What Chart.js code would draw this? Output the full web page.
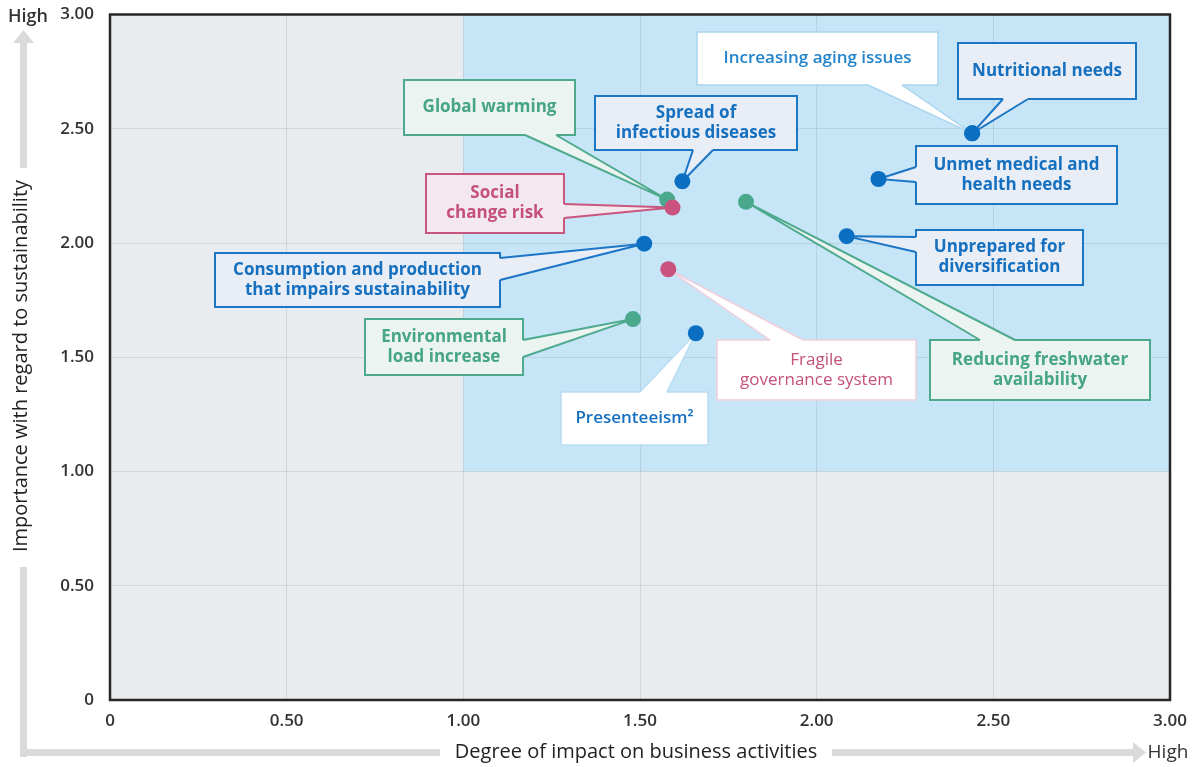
<!DOCTYPE html>
<html>
<head>
<meta charset="utf-8">
<script src="https://cdn.jsdelivr.net/npm/chart.js@4.4.1/dist/chart.umd.min.js"></script>
<style>
  html, body { margin: 0; padding: 0; background: #ffffff; }
  #wrap { width: 1204px; height: 767px; }
</style>
</head>
<body>
<div id="wrap"><canvas id="c" width="1204" height="767"></canvas></div>
<script>
// Materiality issues: impact on business (x) vs. importance for sustainability (y)
const issues = [
  'Nutritional needs',
  'Increasing aging issues',
  'Unmet medical and health needs',
  'Unprepared for diversification',
  'Spread of infectious diseases',
  'Global warming',
  'Social change risk',
  'Reducing freshwater availability',
  'Consumption and production that impairs sustainability',
  'Fragile governance system',
  'Environmental load increase',
  'Presenteeism'
];
const impact     = [2.44, 2.44, 2.175, 2.085, 1.62, 1.577, 1.592, 1.80, 1.512, 1.58, 1.48, 1.658];
const importance = [2.48, 2.48, 2.28, 2.03, 2.27, 2.19, 2.155, 2.18, 1.997, 1.885, 1.667, 1.605];
const groups     = ['social', 'social', 'social', 'social', 'social', 'env', 'gov', 'env', 'social', 'gov', 'env', 'social'];
const tickLabels = ['0', '0.50', '1.00', '1.50', '2.00', '2.50', '3.00'];

const palette = {
  social: { dot: '#0b6fc1', text: '#1670c0', border: '#1b76c6', fill: '#e8edf6' },
  env:    { dot: '#4aa98c', text: '#46a487', border: '#4eaa8e', fill: '#ebf4f1' },
  gov:    { dot: '#c9527f', text: '#c4507c', border: '#c9567f', fill: '#f4e8ef' }
};

// Callout boxes (canvas pixels): box [l, t, r, b], label lines, tail side and its base span
const callouts = [
  { i: 0, box: [958, 43, 1136, 99],  lines: ['Nutritional needs'], side: 'bottom', base: [1003, 1028] },
  { i: 1, box: [697, 32, 938, 85],   lines: ['Increasing aging issues'], side: 'bottom', base: [868, 902], plain: '#a9d5ef', weight: 600, textColor: '#2384cc' },
  { i: 2, box: [916, 146, 1117, 204], lines: ['Unmet medical and', 'health needs'], side: 'left', base: [167, 182] },
  { i: 3, box: [916, 230, 1083, 285], lines: ['Unprepared for', 'diversification'], side: 'left', base: [237, 252] },
  { i: 4, box: [595, 96, 797, 150],  lines: ['Spread of', 'infectious diseases'], side: 'bottom', base: [693, 713] },
  { i: 5, box: [404, 80, 575, 135],  lines: ['Global warming'], side: 'bottom', base: [525, 556] },
  { i: 6, box: [426, 174, 564, 233], lines: ['Social', 'change risk'], side: 'right', base: [204, 218] },
  { i: 7, box: [930, 340, 1150, 400], lines: ['Reducing freshwater', 'availability'], side: 'top', base: [980, 1015] },
  { i: 8, box: [215, 253, 500, 307], lines: ['Consumption and production', 'that impairs sustainability'], side: 'right', base: [258, 280] },
  { i: 9, box: [717, 340, 916, 400], lines: ['Fragile', 'governance system'], side: 'top', base: [770, 803], plain: '#efcfdc', weight: 500 },
  { i: 10, box: [365, 319, 523, 375], lines: ['Environmental', 'load increase'], side: 'right', base: [340, 357] },
  { i: 11, box: [561, 392, 708, 445], lines: ['Presenteeism²'], side: 'top', base: [640, 667], plain: '#b9dcf2', weight: 600 }
];

const points = impact.map((x, k) => ({ x: x, y: importance[k] }));
const dotColors = groups.map(g => palette[g].dot);

const FONT = '"Open Sans", "Noto Sans", sans-serif';

const backdrop = {
  id: 'backdrop',
  beforeDraw(chart) {
    const { ctx, chartArea: a, scales: { x, y } } = chart;
    ctx.save();
    ctx.fillStyle = '#ffffff';
    ctx.fillRect(0, 0, chart.width, chart.height);
    ctx.fillStyle = '#e9ecef';
    ctx.fillRect(a.left, a.top, a.right - a.left, a.bottom - a.top);
    // high-priority quadrant
    const x0 = x.getPixelForValue(1), x1 = x.getPixelForValue(3);
    const y0 = y.getPixelForValue(3), y1 = y.getPixelForValue(1);
    ctx.fillStyle = '#c6e5f6';
    ctx.fillRect(x0, y0, x1 - x0, y1 - y0);
    ctx.restore();
  }
};

function tailPoints(c) {
  const [l, t, r, b] = c.box;
  const [p, q] = c.base;
  switch (c.side) {
    case 'bottom': return [[p, b], [q, b], [p, b - 3], [q, b - 3]];
    case 'top':    return [[p, t], [q, t], [p, t + 3], [q, t + 3]];
    case 'left':   return [[l, p], [l, q], [l + 3, p], [l + 3, q]];
    default:       return [[r, p], [r, q], [r - 3, p], [r - 3, q]];
  }
}

const calloutPlugin = {
  id: 'callouts',
  beforeDatasetsDraw(chart) {
    const { ctx, scales: { x, y } } = chart;
    ctx.save();
    callouts.forEach(c => {
      const pal = palette[groups[c.i]];
      const fill = c.plain ? '#ffffff' : pal.fill;
      const border = c.plain || pal.border;
      const [l, t, r, b] = c.box;
      const px = x.getPixelForValue(impact[c.i]);
      const py = y.getPixelForValue(importance[c.i]);

      ctx.lineWidth = c.plain ? 1.5 : 2;
      ctx.lineJoin = 'miter';
      ctx.fillStyle = fill;
      ctx.strokeStyle = border;
      ctx.fillRect(l, t, r - l, b - t);
      ctx.strokeRect(l, t, r - l, b - t);

      const [a1, a2, i1, i2] = tailPoints(c);
      ctx.beginPath();
      ctx.moveTo(i1[0], i1[1]);
      ctx.lineTo(a1[0], a1[1]);
      ctx.lineTo(px, py);
      ctx.lineTo(a2[0], a2[1]);
      ctx.lineTo(i2[0], i2[1]);
      ctx.closePath();
      ctx.fill();
      ctx.beginPath();
      ctx.moveTo(a1[0], a1[1]);
      ctx.lineTo(px, py);
      ctx.lineTo(a2[0], a2[1]);
      ctx.stroke();

      ctx.fillStyle = c.textColor || pal.text;
      ctx.font = (c.weight || 700) + ' 17px ' + FONT;
      ctx.textAlign = 'center';
      ctx.textBaseline = 'middle';
      const cx = (l + r) / 2, cy = (t + b) / 2;
      const lh = 20;
      c.lines.forEach((s, k) => {
        ctx.fillText(s, cx, cy + (k - (c.lines.length - 1) / 2) * lh);
      });
    });
    ctx.restore();
  }
};

const axisDecor = {
  id: 'axisDecor',
  afterDraw(chart) {
    const { ctx, chartArea: a } = chart;
    ctx.save();
    // frame
    ctx.strokeStyle = '#262626';
    ctx.lineWidth = 2.5;
    ctx.strokeRect(a.left, a.top, a.right - a.left, a.bottom - a.top);

    // grey arrows along the axes
    ctx.fillStyle = '#dadada';
    ctx.fillRect(20, 41, 7, 127);
    ctx.beginPath();
    ctx.moveTo(23.5, 30); ctx.lineTo(13, 43); ctx.lineTo(34, 43); ctx.closePath();
    ctx.fill();
    ctx.fillRect(20, 567, 7, 190);
    ctx.fillRect(20, 749, 420, 7);
    ctx.fillRect(832, 749, 302, 7);
    ctx.beginPath();
    ctx.moveTo(1146, 752.5); ctx.lineTo(1133, 742); ctx.lineTo(1133, 763); ctx.closePath();
    ctx.fill();

    // axis titles
    ctx.fillStyle = '#222222';
    ctx.font = '20px ' + FONT;
    ctx.textAlign = 'center';
    ctx.textBaseline = 'middle';
    ctx.fillText('Degree of impact on business activities', 636, 752);
    ctx.save();
    ctx.translate(21, 366);
    ctx.rotate(-Math.PI / 2);
    ctx.fillText('Importance with regard to sustainability', 0, 0);
    ctx.restore();

    ctx.fillStyle = '#333333';
    ctx.font = '600 18px ' + FONT;
    ctx.fillText('High', 28, 17);
    ctx.font = '19px ' + FONT;
    ctx.fillText('High', 1168, 753);
    ctx.restore();
  }
};

const tickFont = { family: FONT, size: 17, weight: 600 };

new Chart(document.getElementById('c'), {
  type: 'scatter',
  data: {
    datasets: [{
      label: 'Issues',
      data: points,
      backgroundColor: dotColors,
      borderWidth: 0,
      pointRadius: 8,
      pointHoverRadius: 8
    }]
  },
  options: {
    responsive: false,
    animation: false,
    devicePixelRatio: 1,
    layout: { padding: { top: 14.5, right: 34, left: 0, bottom: 0 } },
    plugins: { legend: { display: false }, tooltip: { enabled: false } },
    scales: {
      x: {
        type: 'linear', min: 0, max: 3,
        ticks: {
          stepSize: 0.5, color: '#333333', font: tickFont, padding: 11,
          maxRotation: 0,
          callback: (v, idx) => tickLabels[idx]
        },
        grid: { color: 'rgba(120,130,140,0.2)', lineWidth: 1, drawTicks: false },
        border: { display: false },
        afterFit: s => { s.height = 67; s.paddingLeft = 0; s.paddingRight = 0; }
      },
      y: {
        type: 'linear', min: 0, max: 3,
        ticks: {
          stepSize: 0.5, color: '#333333', font: tickFont, padding: 16,
          callback: (v, idx) => tickLabels[idx]
        },
        grid: { color: 'rgba(120,130,140,0.2)', lineWidth: 1, drawTicks: false },
        border: { display: false },
        afterFit: s => { s.width = 110; s.paddingTop = 0; s.paddingBottom = 0; }
      }
    }
  },
  plugins: [backdrop, calloutPlugin, axisDecor]
});
</script>
</body>
</html>
